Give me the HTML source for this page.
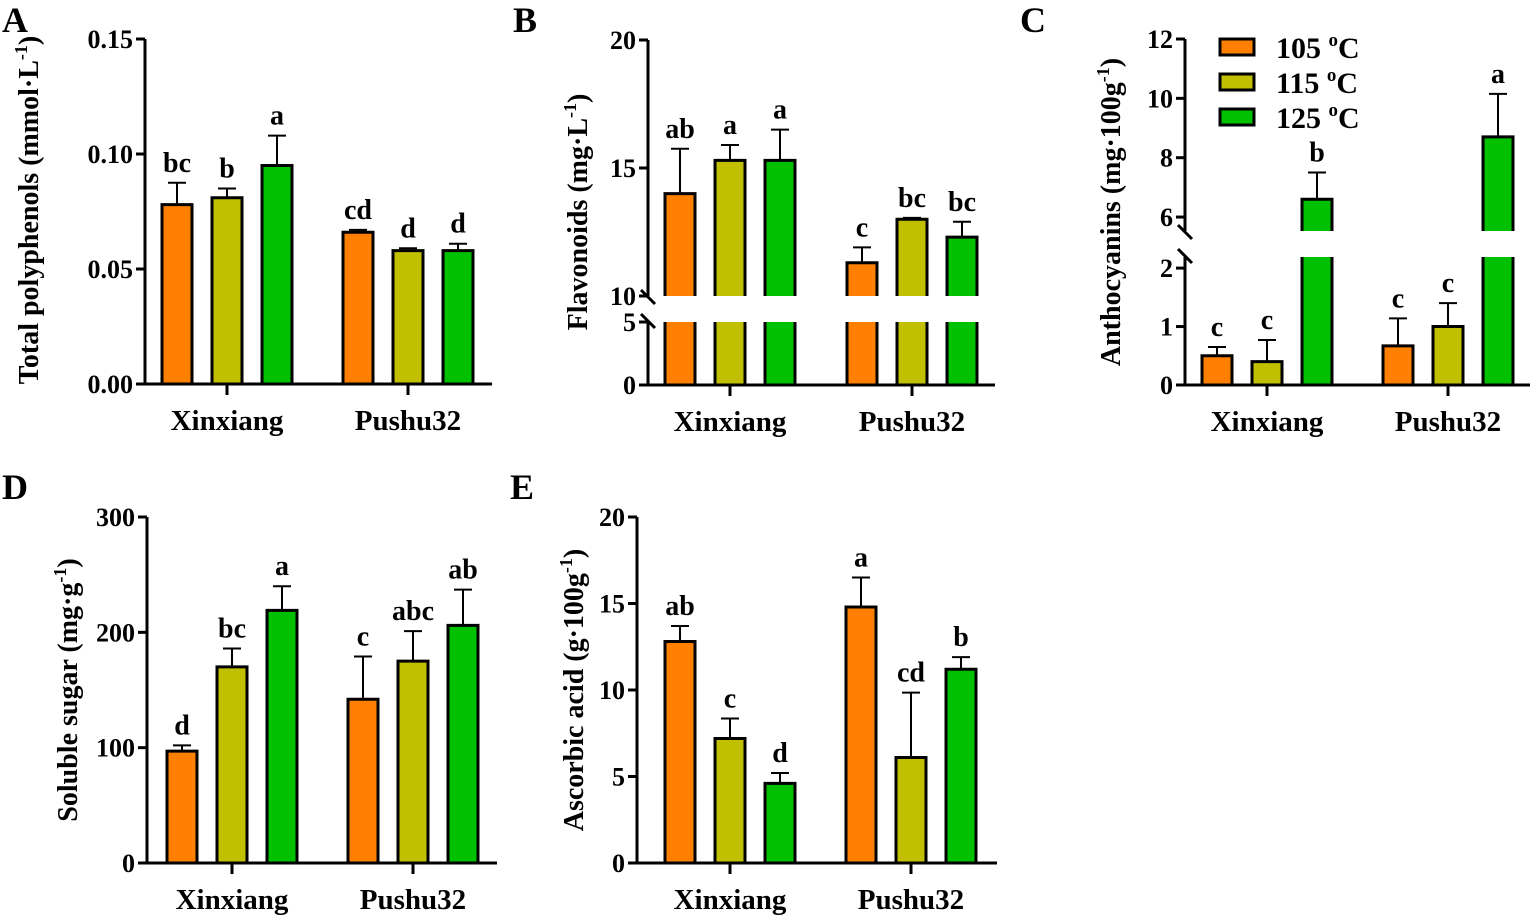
<!DOCTYPE html>
<html><head><meta charset="utf-8"><style>
html,body{margin:0;padding:0;background:#fff;}
svg{display:block;font-family:"Liberation Serif",serif;font-weight:bold;}
</style></head><body>
<svg id="fig" width="1535" height="917" viewBox="0 0 1535 917" xmlns="http://www.w3.org/2000/svg"></svg>
<script>
const NS='http://www.w3.org/2000/svg';
const fig=document.getElementById('fig');
const groups=['Xinxiang','Pushu32'];
const temps=['105','115','125'];
const colors=['#ff8000','#c0c000','#00c000'];

// Panel A
const aVals=[[0.078,0.081,0.095],[0.066,0.058,0.058]];
const aErr=[[0.0095,0.004,0.013],[0.001,0.001,0.003]];
const aLet=[['bc','b','a'],['cd','d','d']];
const aTicks=[0,0.05,0.10,0.15];
const aTickLbl=['0.00','0.05','0.10','0.15'];
// Panel B
const bVals=[[14.0,15.3,15.3],[11.3,13.0,12.3]];
const bErr=[[1.75,0.6,1.2],[0.6,0.05,0.6]];
const bLet=[['ab','a','a'],['c','bc','bc']];
const bTicks=[0,5,10,15,20];
const bTickLbl=['0','5','10','15','20'];
// Panel C
const cVals=[[0.5,0.4,6.6],[0.67,1.0,8.7]];
const cErr=[[0.15,0.37,0.9],[0.47,0.4,1.45]];
const cLet=[['c','c','b'],['c','c','a']];
const cTicks=[0,1,2,6,8,10,12];
const cTickLbl=['0','1','2','6','8','10','12'];
// Panel D
const dVals=[[97,170,219],[142,175,206]];
const dErr=[[5,16,21],[37,26,31]];
const dLet=[['d','bc','a'],['c','abc','ab']];
const dTicks=[0,100,200,300];
const dTickLbl=['0','100','200','300'];
// Panel E
const eVals=[[12.8,7.2,4.6],[14.8,6.1,11.2]];
const eErr=[[0.9,1.15,0.6],[1.7,3.75,0.7]];
const eLet=[['ab','c','d'],['a','cd','b']];
const eTicks=[0,5,10,15,20];
const eTickLbl=['0','5','10','15','20'];

function mk(tag,attrs,parent){const e=document.createElementNS(NS,tag);for(const k in attrs)e.setAttribute(k,attrs[k]);(parent||fig).appendChild(e);return e;}

function panel(cfg){
  const g=mk('g',{});
  
  
  const segs=cfg.segs;
  function y(v){
    for(const s of segs){ if(v>=s.v0-1e-9 && v<=s.v1+1e-9) return s.p0+(v-s.v0)/(s.v1-s.v0)*(s.p1-s.p0); }
    const s=segs[segs.length-1]; return s.p0+(v-s.v0)/(s.v1-s.v0)*(s.p1-s.p0);
  }
  function x(gi,ti){return cfg.gx[gi]+(ti-1)*cfg.sp;}
  const bw=30;
  for(let gi=0;gi<2;gi++)for(let ti=0;ti<3;ti++){
    const v=cfg.vals[gi][ti], cx=x(gi,ti), xl=cx-bw/2, xr=cx+bw/2;
    const bg=mk('g',{},g);
    
    
    for(let si=0;si<segs.length;si++){
      const s=segs[si];
      if(v<s.v0) continue;
      const top=Math.min(v,s.v1), yb=y(s.v0), yt=y(top);
      mk('rect',{x:xl,y:yt,width:bw,height:yb-yt,fill:colors[ti]},bg);
      mk('line',{x1:xl,y1:yb,x2:xl,y2:yt,stroke:'#000','stroke-width':3},bg);
      mk('line',{x1:xr,y1:yb,x2:xr,y2:yt,stroke:'#000','stroke-width':3},bg);
      if(v<=s.v1) mk('line',{x1:xl-1.5,y1:yt,x2:xr+1.5,y2:yt,stroke:'#000','stroke-width':3},bg);
    }
    const et=v+cfg.err[gi][ti], ye=y(et), yv=y(v);
    const eb=mk('g',{},g);
    
    
    mk('line',{x1:cx,y1:yv,x2:cx,y2:ye,stroke:'#000','stroke-width':2},eb);
    mk('line',{x1:cx-9,y1:ye,x2:cx+9,y2:ye,stroke:'#000','stroke-width':2},eb);
    const t=mk('text',{x:cx,y:ye-11,'text-anchor':'middle','font-size':28},g);
    t.textContent=cfg.lets[gi][ti];
    
    
  }
  const ax=mk('g',{},g);
  
  
  for(let si=0;si<segs.length;si++){
    const s=segs[si];
    mk('line',{x1:cfg.ax,y1:s.p0+(si==0?1.5:0),x2:cfg.ax,y2:s.p1,stroke:'#000','stroke-width':3},ax);
    if(si>0){
      const yb=s.p0, yt=segs[si-1].p1;
      mk('line',{x1:cfg.ax-7,y1:yt-8,x2:cfg.ax+7,y2:yt+6,stroke:'#000','stroke-width':3},ax);
      mk('line',{x1:cfg.ax-7,y1:yb-6,x2:cfg.ax+7,y2:yb+8,stroke:'#000','stroke-width':3},ax);
    }
  }
  cfg.ticks.forEach((tv,i)=>{
    const yy=y(tv);
    mk('line',{x1:cfg.ax-9,y1:yy,x2:cfg.ax,y2:yy,stroke:'#000','stroke-width':3},ax);
    const t=mk('text',{x:cfg.ax-12,y:yy+9,'text-anchor':'end','font-size':26},ax);
    t.textContent=cfg.tl[i];
    
    
  });
  const xa=mk('g',{},g);
  
  
  const y0=y(0);
  mk('line',{x1:cfg.ax-1.5,y1:y0,x2:cfg.axEnd,y2:y0,stroke:'#000','stroke-width':3},xa);
  for(let gi=0;gi<2;gi++){
    mk('line',{x1:cfg.gx[gi],y1:y0,x2:cfg.gx[gi],y2:y0+11,stroke:'#000','stroke-width':3},xa);
    const t=mk('text',{x:cfg.gx[gi],y:y0+46,'text-anchor':'middle','font-size':29},xa);
    t.textContent=groups[gi];
    
    
  }
  const tt=mk('text',{transform:`translate(${cfg.tx},${cfg.ty}) rotate(-90)`,'text-anchor':'middle','font-size':28},g);
  
  
  tt.innerHTML=cfg.title;
  const pl=mk('text',{x:cfg.lx,y:cfg.ly,'font-size':36},g);
  pl.textContent=cfg.letter;
  
  
}
const sup=s=>`<tspan dy="-11" font-size="18">${s}</tspan><tspan dy="11">`;
panel({name:'panel-a',letter:'A',lx:2,ly:32,vals:aVals,err:aErr,lets:aLet,ticks:aTicks,tl:aTickLbl,
  segs:[{v0:0,v1:0.15,p0:384,p1:39}],ax:145,axEnd:492,gx:[227,408],sp:50,tx:38,ty:210,
  title:'Total polyphenols (mmol·L'+sup('-1')+')</tspan>'});
panel({name:'panel-b',letter:'B',lx:513,ly:32,vals:bVals,err:bErr,lets:bLet,ticks:bTicks,tl:bTickLbl,
  segs:[{v0:0,v1:5,p0:385,p1:322},{v0:10,v1:20,p0:296,p1:40}],ax:648,axEnd:995,gx:[730,912],sp:50,tx:587,ty:212,
  title:'Flavonoids (mg·L'+sup('-1')+')</tspan>'});
panel({name:'panel-c',letter:'C',lx:1020,ly:32,vals:cVals,err:cErr,lets:cLet,ticks:cTicks,tl:cTickLbl,
  segs:[{v0:0,v1:2.19,p0:385,p1:257},{v0:5.53,v1:12,p0:231,p1:39}],ax:1185,axEnd:1530,gx:[1267,1448],sp:50,tx:1120,ty:212,
  title:'Anthocyanins (mg·100g'+sup('-1')+')</tspan>'});
panel({name:'panel-d',letter:'D',lx:2,ly:499,vals:dVals,err:dErr,lets:dLet,ticks:dTicks,tl:dTickLbl,
  segs:[{v0:0,v1:300,p0:863,p1:517}],ax:147,axEnd:497,gx:[232,413],sp:50,tx:77,ty:690,
  title:'Soluble sugar (mg·g'+sup('-1')+')</tspan>'});
panel({name:'panel-e',letter:'E',lx:510,ly:499,vals:eVals,err:eErr,lets:eLet,ticks:eTicks,tl:eTickLbl,
  segs:[{v0:0,v1:20,p0:863,p1:517}],ax:637,axEnd:997,gx:[730,911],sp:50,tx:583,ty:690,
  title:'Ascorbic acid (g·100g'+sup('-1')+')</tspan>'});
const lg=mk('g',{});


temps.forEach((t,i)=>{
  const yc=47+i*35;
  const e=mk('g',{},lg);
  
  
  mk('rect',{x:1220,y:yc-8,width:34,height:16,fill:colors[i],stroke:'#000','stroke-width':3},e);
  const tx=mk('text',{x:1276,y:yc+11,'font-size':30},e);
  tx.innerHTML=t+' <tspan dy="-12" font-size="19">o</tspan><tspan dy="12">C</tspan>';
});
</script>
</body></html>
